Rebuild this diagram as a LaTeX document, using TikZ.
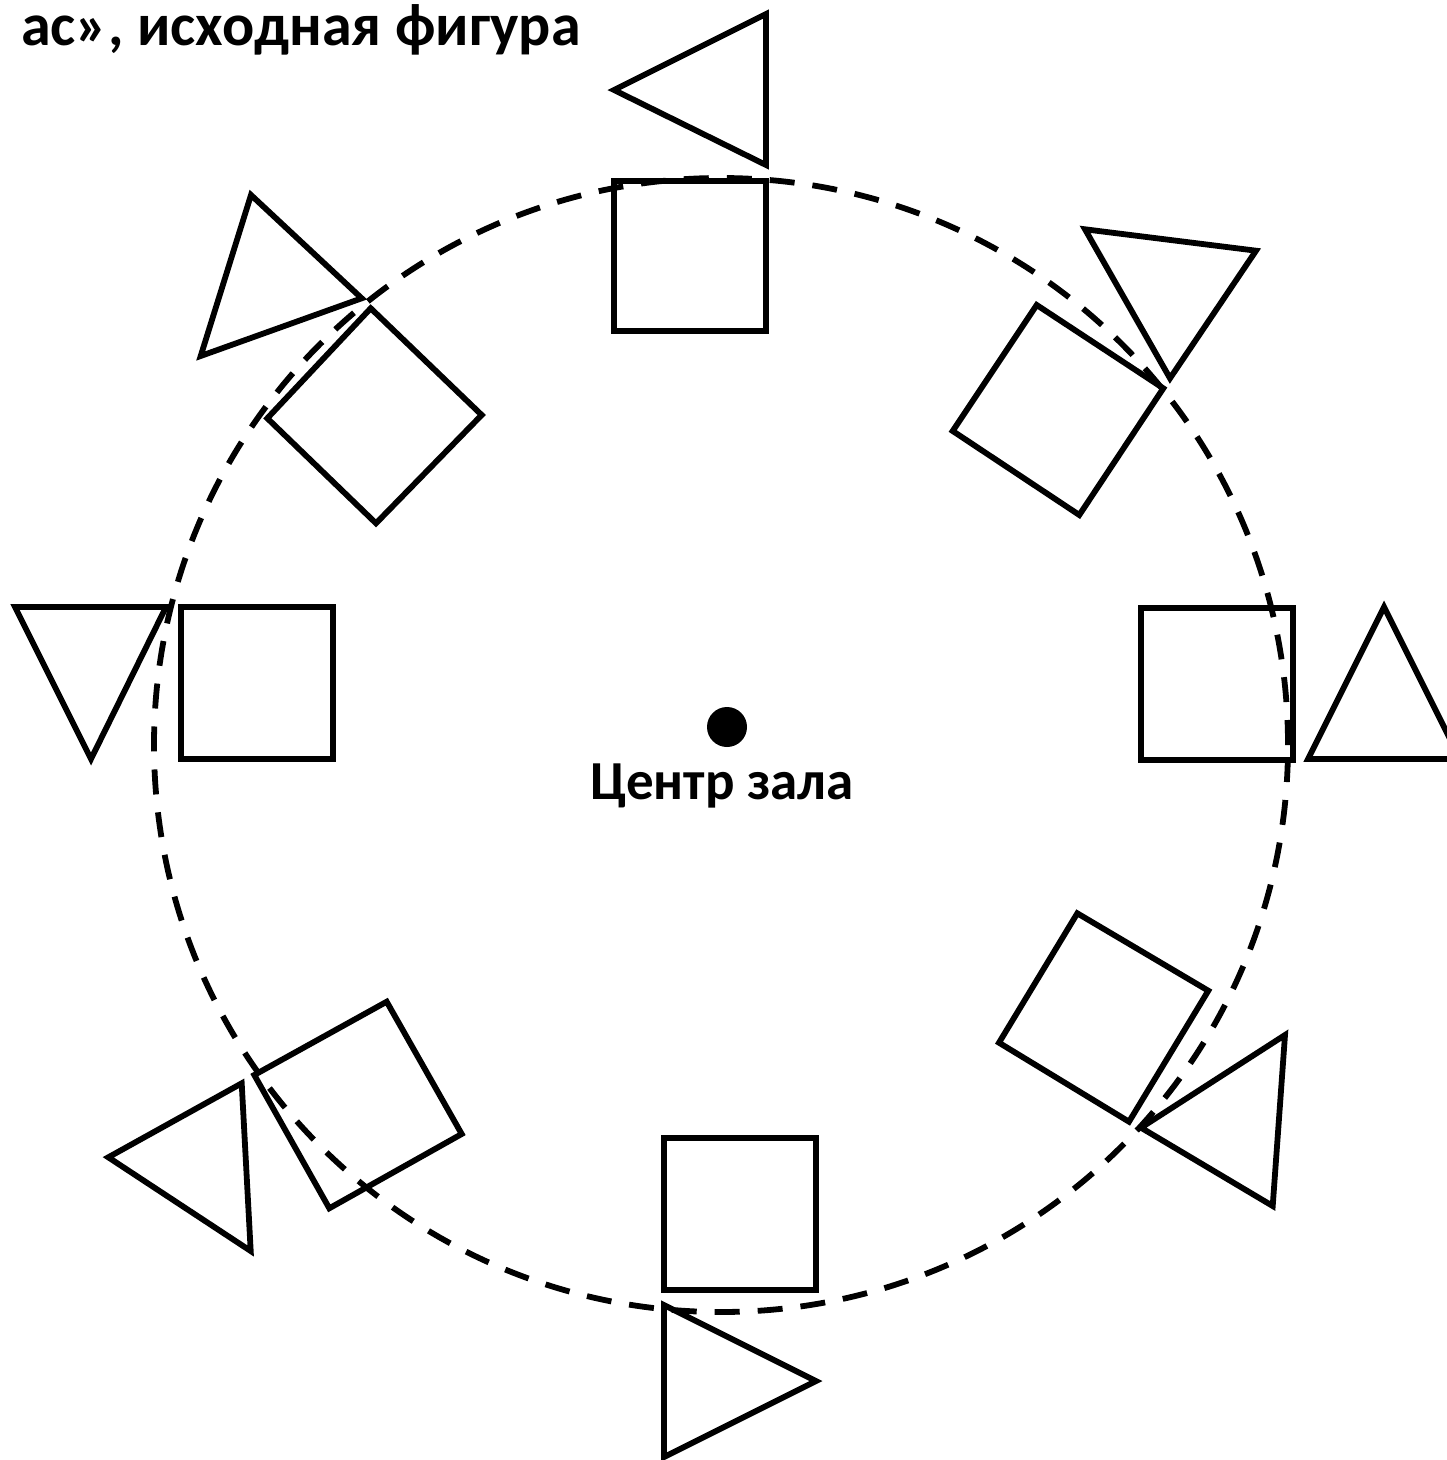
\documentclass[tikz,border=0pt]{standalone}
\usepackage{fontspec}
\setmainfont{Carlito}
\begin{document}
\begin{tikzpicture}[x=0.5pt,y=-0.5pt,
  shapeline/.style={draw=black,line width=2.9pt,line join=miter},
  ringline/.style={draw=black,line width=2.9pt,dash pattern=on 12.5pt off 9pt},
  lbl/.style={font=\fontsize{27.5}{32}\selectfont\bfseries,inner sep=0pt},
  ttl/.style={font=\fontsize{30}{35}\selectfont\bfseries,inner sep=0pt}]
\useasboundingbox (0,0) rectangle (1446,1460);
% dashed hall circle
\draw[ringline] (721,745) circle[radius=283.5pt];
% centre
\fill (727,727) circle[radius=10pt];
\node[lbl,anchor=base] (ctext) at (722,799) {Центр зала};
% title
\node[ttl,anchor=base east] (title) at (581,46) {ас», исходная фигура};
% top
\draw[shapeline] (766,14) -- (766,165) -- (614,90) -- cycle;
\draw[shapeline] (614,181) rectangle (766,331);
% top right
\draw[shapeline] (1036.7,305) -- (1163.3,388.3) -- (1079.3,515) -- (952.7,431) -- cycle;
\draw[shapeline] (1085,229.3) -- (1256,250.7) -- (1170,378.3) -- cycle;
% right
\draw[shapeline] (1141,608) rectangle (1293,760);
\draw[shapeline] (1308,759) -- (1384,607) -- (1460,759) -- cycle;
% bottom right
\draw[shapeline] (1077.3,913.3) -- (1208.3,990.7) -- (1129,1121.7) -- (999,1042.7) -- cycle;
\draw[shapeline] (1285,1035) -- (1272.7,1206) -- (1141,1127.7) -- cycle;
% bottom
\draw[shapeline] (664,1138) rectangle (816,1290);
\draw[shapeline] (664,1305) -- (664,1457) -- (816,1381) -- cycle;
% bottom left
\draw[shapeline] (386.7,1001.7) -- (461.7,1134) -- (329.3,1208.3) -- (254.3,1075) -- cycle;
\draw[shapeline] (241.7,1083.3) -- (250.7,1251) -- (108.3,1157.3) -- cycle;
% left
\draw[shapeline] (181,607) rectangle (333,759);
\draw[shapeline] (15,607) -- (166,607) -- (91,759) -- cycle;
% top left
\draw[shapeline] (370.7,308.3) -- (481.7,415) -- (376,523.3) -- (267.3,418.3) -- cycle;
\draw[shapeline] (251,195) -- (361.7,298.3) -- (200.7,356) -- cycle;
\end{tikzpicture}
\end{document}
